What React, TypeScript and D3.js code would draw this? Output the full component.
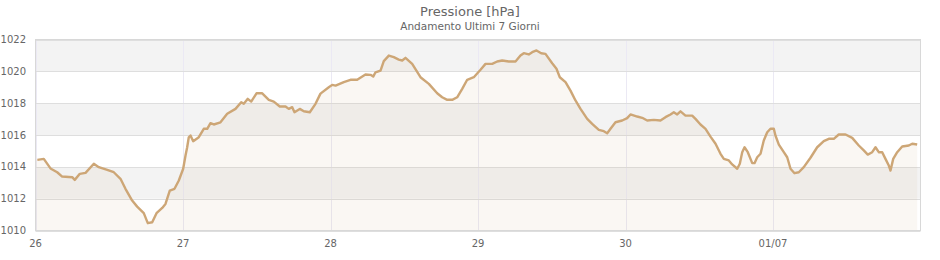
import React from "react";
import * as d3 from "d3";

// hours since 26 June 00:00
const hours = [
  0.3, 1.35, 2.44, 3.53, 4.34, 5.97, 6.39, 7.21, 8.14, 9.49, 10.3, 11.67, 12.74, 13.83, 14.64, 15.73, 16.54,
  17.62, 18.27, 18.99, 19.69, 20.62, 21.15, 21.85, 22.62, 23.32, 24.03, 24.41, 24.68, 24.94, 25.22, 25.66,
  26.57, 27.38, 27.94, 28.47, 29.01, 30.1, 31.19, 32.54, 33.47, 33.89, 34.54, 35.1, 35.96, 36.89, 37.96,
  38.77, 39.75, 40.68, 41.21, 41.77, 42.14, 43.0, 43.66, 44.63, 45.56, 46.37, 47.72, 48.28, 48.82, 50.16,
  51.25, 52.34, 53.69, 54.51, 54.95, 55.32, 56.14, 56.67, 57.49, 58.3, 59.11, 59.67, 60.2, 61.29, 62.64,
  64.0, 65.36, 66.17, 66.99, 67.8, 68.61, 69.43, 70.24, 71.32, 72.41, 73.22, 74.31, 75.12, 75.94, 77.01,
  78.1, 78.91, 79.45, 80.26, 80.82, 81.52, 82.28, 82.98, 84.07, 84.77, 85.31, 86.24, 87.05, 87.86, 88.68,
  89.77, 90.58, 91.66, 92.47, 93.02, 93.56, 94.37, 95.46, 96.27, 96.81, 97.9, 98.72, 99.53, 100.6, 101.69,
  102.5, 103.32, 103.86, 104.41, 104.95, 105.76, 106.85, 107.39, 108.2, 109.02, 109.83, 110.65, 111.46,
  112.0, 112.81, 113.36, 114.18, 114.6, 114.99, 115.37, 115.9, 116.62, 116.99, 117.43, 117.97, 118.5,
  119.06, 119.59, 120.13, 120.4, 120.95, 121.76, 122.31, 122.85, 123.5, 124.2, 125.01, 126.1, 127.19,
  128.26, 129.08, 129.89, 130.7, 131.8, 132.89, 133.96, 134.77, 135.42, 136.14, 136.68, 137.21, 137.77,
  138.3, 138.84, 139.12, 139.56, 140.21, 141.02, 142.1, 142.65, 143.46,
];
const pressure = [
  1014.44, 1014.5, 1013.9, 1013.66, 1013.39, 1013.35, 1013.18, 1013.56, 1013.62, 1014.19, 1013.98, 1013.81,
  1013.66, 1013.25, 1012.62, 1011.88, 1011.5, 1011.09, 1010.46, 1010.52, 1011.09, 1011.42, 1011.67, 1012.51,
  1012.62, 1013.14, 1013.88, 1014.71, 1015.23, 1015.86, 1015.97, 1015.61, 1015.86, 1016.39, 1016.39, 1016.74,
  1016.66, 1016.8, 1017.33, 1017.64, 1018.06, 1017.96, 1018.27, 1018.1, 1018.62, 1018.62, 1018.21, 1018.1,
  1017.79, 1017.79, 1017.64, 1017.75, 1017.43, 1017.64, 1017.49, 1017.43, 1017.96, 1018.6, 1019.0, 1019.15,
  1019.1, 1019.32, 1019.47, 1019.47, 1019.8, 1019.78, 1019.67, 1019.94, 1020.05, 1020.64, 1020.99, 1020.89,
  1020.74, 1020.68, 1020.85, 1020.47, 1019.63, 1019.21, 1018.62, 1018.37, 1018.21, 1018.21, 1018.37, 1018.9,
  1019.47, 1019.63, 1020.1, 1020.47, 1020.47, 1020.62, 1020.68, 1020.62, 1020.62, 1020.99, 1021.14, 1021.06,
  1021.2, 1021.31, 1021.14, 1021.1, 1020.51, 1020.16, 1019.63, 1019.32, 1018.79, 1018.17, 1017.64, 1017.01,
  1016.7, 1016.32, 1016.24, 1016.11, 1016.39, 1016.8, 1016.91, 1017.06, 1017.29, 1017.16, 1017.08, 1016.91,
  1016.95, 1016.91, 1017.12, 1017.29, 1017.43, 1017.29, 1017.49, 1017.22, 1017.22, 1017.01, 1016.66, 1016.39,
  1015.9, 1015.45, 1014.82, 1014.5, 1014.4, 1014.15, 1013.88, 1014.19, 1014.92, 1015.23, 1014.92, 1014.23,
  1014.23, 1014.6, 1014.82, 1015.65, 1016.17, 1016.39, 1016.39, 1015.97, 1015.4, 1014.92, 1014.6, 1013.88,
  1013.6, 1013.66, 1013.98, 1014.57, 1015.23, 1015.61, 1015.76, 1015.76, 1016.03, 1016.03, 1015.82, 1015.34,
  1015.03, 1014.77, 1014.92, 1015.23, 1014.92, 1014.92, 1014.5, 1014.08, 1013.77, 1014.5, 1014.92, 1015.28,
  1015.34, 1015.45, 1015.4,
];

const yTicks = [1010, 1012, 1014, 1016, 1018, 1020, 1022];
const xTickHours = [0, 24, 48, 72, 96, 120];
const xTickLabels = ["26", "27", "28", "29", "30", "01/07"];
const title = "Pressione [hPa]";
const subtitle = "Andamento Ultimi 7 Giorni";

const W = 940;
const H = 260;
const L = 35.5;
const R = 920.5;
const T = 39.5;
const B = 230.5;
const FONT = "'DejaVu Sans', sans-serif";
const LINE = "#cda676";

export default function App() {
  const x = d3.scaleLinear().domain([0, 144]).range([L, R]);
  const y = d3.scaleLinear().domain([1010, 1022]).range([B, T]);
  const pts = hours.map((h, i) => [h, pressure[i]] as [number, number]);
  const line = d3.line<[number, number]>().x((d) => x(d[0])).y((d) => y(d[1]));
  const area = d3
    .area<[number, number]>()
    .x((d) => x(d[0]))
    .y0(B)
    .y1((d) => y(d[1]));
  const areaPts: [number, number][] = [[0, pressure[0]], ...pts];

  const bands = yTicks.slice(0, -1).map((v, i) => ({ lo: v, hi: yTicks[i + 1], gray: i % 2 === 1 }));

  return (
    <svg
      width={W}
      height={H}
      style={{ position: "absolute", left: 0, top: 0, display: "block" }}
      fontFamily={FONT}
    >
      <rect x={0} y={0} width={W} height={H} fill="#ffffff" />
      <text x={470} y={16} textAnchor="middle" fontSize={13} fill="#666666">
        {title}
      </text>
      <text x={470} y={30} textAnchor="middle" fontSize={10.5} fill="#666666">
        {subtitle}
      </text>
      {bands.map((b, i) => (
        <rect
          key={i}
          x={L}
          y={y(b.hi)}
          width={R - L}
          height={y(b.lo) - y(b.hi)}
          fill={b.gray ? "#f3f3f3" : "#ffffff"}
        />
      ))}
      {xTickHours.map((h, i) => (
        <line key={i} x1={Math.round(x(h)) + 0.5} x2={Math.round(x(h)) + 0.5} y1={T} y2={B} stroke="#ebe9f4" strokeWidth={1} />
      ))}
      {yTicks.map((v, i) => (
        <line key={i} x1={L} x2={R} y1={Math.round(y(v)) + 0.5} y2={Math.round(y(v)) + 0.5} stroke="#dedede" strokeWidth={1} />
      ))}
      <path d={area(areaPts) || ""} fill={LINE} fillOpacity={0.09} />
      <path d={line(pts) || ""} fill="none" stroke={LINE} strokeWidth={2.4} strokeLinejoin="round" />
      <rect x={L} y={T} width={R - L} height={B - T} fill="none" stroke="#d8d8d8" strokeWidth={1} />
      {yTicks.map((v, i) => (
        <text key={i} x={26} y={y(v) + 3.5} textAnchor="end" fontSize={10} fill="#666666">
          {v}
        </text>
      ))}
      {xTickHours.map((h, i) => (
        <text key={i} x={x(h)} y={247} textAnchor="middle" fontSize={10} fill="#666666">
          {xTickLabels[i]}
        </text>
      ))}
    </svg>
  );
}
